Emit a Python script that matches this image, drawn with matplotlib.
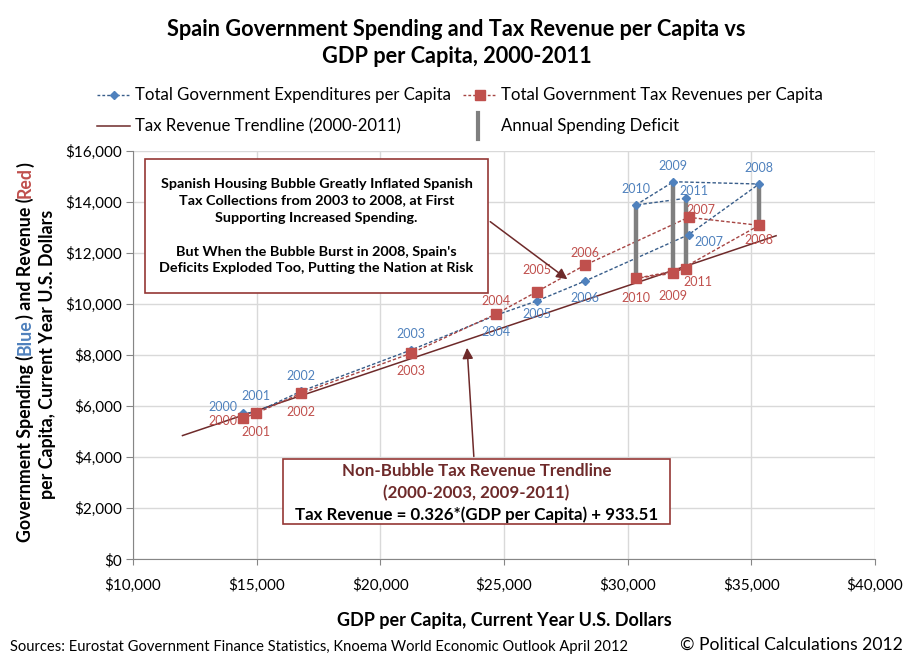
import numpy as np
import matplotlib
matplotlib.use("Agg")
import matplotlib.pyplot as plt
from matplotlib.lines import Line2D
from matplotlib.patches import Rectangle
from matplotlib.ticker import StrMethodFormatter

plt.rcParams['font.family'] = ['Lato', 'DejaVu Sans']

years = [2000, 2001, 2002, 2003, 2004, 2005, 2006, 2007, 2008, 2009, 2010, 2011]
gdp = [14436, 14974, 16793, 21241, 24678, 26324, 28277, 32460, 35313, 31848, 30327, 32345]
spending = [5717, 5760, 6580, 8195, 9560, 10114, 10897, 12710, 14695, 14785, 13873, 14135]
revenue = [5521, 5717, 6500, 8066, 9605, 10478, 11523, 13391, 13078, 11198, 11002, 11367]
deficit_years = [2008, 2009, 2010, 2011]
trend_x = [12000, 36000]
trend_y = [4845, 12670]

# label offsets in pixels (dx, dy, ha)
blue_off = {2000: (-5, 6, 'right'), 2001: (0, 16, 'center'), 2002: (0, 15, 'center'),
            2003: (0, 16, 'center'), 2004: (0, -17, 'center'), 2005: (0, -13, 'center'),
            2006: (0, -17, 'center'), 2007: (6, -7, 'left'), 2008: (0, 16, 'center'),
            2009: (0, 16, 'center'), 2010: (0, 16, 'center'), 2011: (-6, 7, 'left')}
red_off = {2000: (-5, -3, 'right'), 2001: (0, -19, 'center'), 2002: (0, -19, 'center'),
           2003: (0, -18, 'center'), 2004: (0, 13, 'center'), 2005: (0, 22, 'center'),
           2006: (0, 12, 'center'), 2007: (-2, 7, 'left'), 2008: (0, -15, 'center'),
           2009: (0, -23, 'center'), 2010: (0, -20, 'center'), 2011: (-2, -13, 'left')}

BLUE = '#4F81BD'
BLUE_LINE = '#385D8A'
RED = '#C0504D'
RED_LINE = '#A64442'
MAROON = '#6E2A2A'
BOX = '#953735'
GRAY = '#7F7F7F'

fig = plt.figure(figsize=(9.13, 6.63), dpi=100)
ax = fig.add_axes([0.1457, 0.1564, 0.8127, 0.6163])

ax.plot(trend_x, trend_y, color=MAROON, lw=1.1, zorder=2)
ax.plot(gdp, spending, color=BLUE_LINE, lw=1, linestyle=(0, (2.5, 1.5)), zorder=3)
ax.plot(gdp, revenue, color=RED_LINE, lw=1, linestyle=(0, (2.5, 1.5)), zorder=3)

idx = [years.index(y) for y in deficit_years]
ax.vlines([gdp[i] for i in idx], [revenue[i] for i in idx], [spending[i] for i in idx],
          color=GRAY, lw=3.2, zorder=4)

ax.plot(gdp, spending, 'D', color=BLUE, ms=4.5, zorder=5)
ax.plot(gdp, revenue, 's', color=RED, ms=6.8, zorder=5)

for i, yr in enumerate(years):
    dx, dy, ha = blue_off[yr]
    ax.annotate(str(yr), (gdp[i], spending[i]), xytext=(dx, dy), textcoords='offset pixels',
                ha=ha, va='center', color=BLUE, fontsize=9, zorder=6)
    dx, dy, ha = red_off[yr]
    ax.annotate(str(yr), (gdp[i], revenue[i]), xytext=(dx, dy), textcoords='offset pixels',
                ha=ha, va='center', color=RED, fontsize=9, zorder=6)

ax.set_xlim(10000, 40000)
ax.set_ylim(0, 16000)
ax.set_xticks(np.arange(10000, 40001, 5000))
ax.set_yticks(np.arange(0, 16001, 2000))
ax.xaxis.set_major_formatter(StrMethodFormatter('${x:,.0f}'))
ax.yaxis.set_major_formatter(StrMethodFormatter('${x:,.0f}'))
ax.grid(True, color='#D9D9D9', lw=1)
ax.set_axisbelow(True)
for s in ['top', 'right']:
    ax.spines[s].set_visible(False)
for s in ['left', 'bottom']:
    ax.spines[s].set_color('#868686')
ax.tick_params(axis='y', length=5, color='#868686', labelsize=11, pad=3)
ax.tick_params(axis='x', length=4, color='#868686', labelsize=11, pad=9)
ax.set_xlabel('GDP per Capita, Current Year U.S. Dollars', fontsize=13, fontweight='bold', labelpad=14)

fig.text(0.5, 0.972, 'Spain Government Spending and Tax Revenue per Capita vs\nGDP per Capita, 2000-2011',
         ha='center', va='top', fontsize=15.7, fontweight='bold', linespacing=1.4)

# legend drawn by hand so entries sit where the reference has them
def leg_handle(x0, x1, y, **kw):
    fig.add_artist(Line2D([x0 / 913, x1 / 913], [1 - y / 663, 1 - y / 663], transform=fig.transFigure, **kw))

leg_handle(97, 130, 95, color=BLUE_LINE, lw=1, linestyle=(0, (2, 1.5)))
fig.add_artist(Line2D([113.5 / 913], [1 - 95 / 663], marker='D', color=BLUE, ms=4.5, transform=fig.transFigure))
fig.text(135 / 913, 1 - 95 / 663, 'Total Government Expenditures per Capita', va='center', fontsize=12.1)
leg_handle(463, 497, 95, color=RED_LINE, lw=1, linestyle=(0, (2, 1.5)))
fig.add_artist(Line2D([480 / 913], [1 - 95 / 663], marker='s', color=RED, ms=6.5, transform=fig.transFigure))
fig.text(501 / 913, 1 - 95 / 663, 'Total Government Tax Revenues per Capita', va='center', fontsize=12.1)
leg_handle(97, 130, 126, color=MAROON, lw=1.1)
fig.text(135 / 913, 1 - 126 / 663, 'Tax Revenue Trendline (2000-2011)', va='center', fontsize=12.1)
fig.add_artist(Line2D([478 / 913, 478 / 913], [1 - 113 / 663, 1 - 139 / 663], color=GRAY, lw=3,
                      transform=fig.transFigure))
fig.text(501 / 913, 1 - 126 / 663, 'Annual Spending Deficit', va='center', fontsize=12.1)

# y label with coloured words
renderer = fig.canvas.get_renderer()
def vertical_pieces(x, yc, pieces, fs):
    texts = []
    total = 0
    for txt, col in pieces:
        t = fig.text(x, 0, txt, rotation=90, color=col, ha='center',
                     va='bottom', fontsize=fs, fontweight='bold')
        h = t.get_window_extent(renderer).height / fig.bbox.height
        texts.append((t, h))
        total += h
    y = yc - total / 2
    for t, h in texts:
        t.set_y(y)
        y += h

vertical_pieces(25 / 913, 1 - 352 / 663, [('Government Spending (', 'black'), ('Blue', BLUE),
                                          (') and Revenue (', 'black'), ('Red', RED), (')', 'black')], 12.8)
vertical_pieces(48 / 913, 1 - 354 / 663, [('per Capita, Current Year U.S. Dollars', 'black')], 12.8)

# annotation boxes
fig.add_artist(Rectangle((145 / 913, 1 - 292.7 / 663), 343 / 913, 133.4 / 663, transform=fig.transFigure,
                         facecolor='white', edgecolor=BOX, lw=1.2, zorder=10))
fig.text(316.5 / 913, 1 - 226 / 663,
         "Spanish Housing Bubble Greatly Inflated Spanish\nTax Collections from 2003 to 2008, at First\n"
         "Supporting Increased Spending.\n\nBut When the Bubble Burst in 2008, Spain's\n"
         "Deficits Exploded Too, Putting the Nation at Risk",
         ha='center', va='center', fontsize=10.4, fontweight='bold', linespacing=1.5, zorder=11)
ax.annotate('', xy=(27650, 10900), xytext=(488 / 913, 1 - 220 / 663), textcoords='figure fraction',
            arrowprops=dict(arrowstyle='-|>', color=MAROON, lw=1.1, mutation_scale=16), zorder=9)

fig.add_artist(Rectangle((282.7 / 913, 1 - 524 / 663), 387.3 / 913, 64.7 / 663, transform=fig.transFigure,
                         facecolor='white', edgecolor=BOX, lw=1.2, zorder=10))
fig.text(476.3 / 913, 1 - 470.7 / 663, 'Non-Bubble Tax Revenue Trendline', ha='center', va='center',
         fontsize=12.2, fontweight='bold', color=MAROON, zorder=11)
fig.text(476.3 / 913, 1 - 493.5 / 663, '(2000-2003, 2009-2011)', ha='center', va='center',
         fontsize=12.2, fontweight='bold', color=MAROON, zorder=11)
fig.text(476.3 / 913, 1 - 515 / 663, 'Tax Revenue = 0.326*(GDP per Capita) + 933.51', ha='center',
         va='center', fontsize=12.2, fontweight='bold', color='black', zorder=11)
ax.annotate('', xy=(23500, 8390), xytext=(474 / 913, 1 - 459.3 / 663), textcoords='figure fraction',
            arrowprops=dict(arrowstyle='-|>', color=MAROON, lw=1.1, mutation_scale=16), zorder=9)

fig.text(10 / 913, 1 - 647 / 663, 'Sources: Eurostat Government Finance Statistics, Knoema World Economic Outlook April 2012',
         va='center', fontsize=10.6)
fig.text(903 / 913, 1 - 645 / 663, '\u00a9 Political Calculations 2012', ha='right', va='center', fontsize=12.6)

fig.savefig('out.png', dpi=100)
